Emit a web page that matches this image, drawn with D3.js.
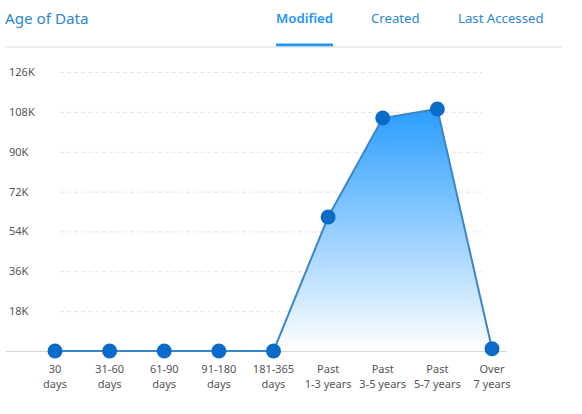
<!DOCTYPE html>
<html>
<head>
<meta charset="utf-8">
<script src="https://cdn.jsdelivr.net/npm/d3@7/dist/d3.min.js"></script>
<style>
  html, body { margin: 0; padding: 0; background: #fff; }
  svg { display: block; font-family: "Noto Sans", "Open Sans", sans-serif; }
</style>
</head>
<body>
<svg id="chart" width="582" height="414"></svg>
<script>
// Age buckets (two-line labels) and file counts per bucket
const categories = [
  ["30", "days"], ["31-60", "days"], ["61-90", "days"], ["91-180", "days"],
  ["181-365", "days"], ["Past", "1-3 years"], ["Past", "3-5 years"],
  ["Past", "5-7 years"], ["Over", "7 years"]
];
const modifiedCounts = [0, 0, 0, 0, 0, 60500, 105200, 109300, 1000];
const yTicks = [18000, 36000, 54000, 72000, 90000, 108000, 126000];
const tabs = ["Modified", "Created", "Last Accessed"];
const activeTab = "Modified";

const svg = d3.select("#chart");

// Header
svg.append("text").attr("x", 5).attr("y", 24)
  .attr("font-size", 15.2).attr("fill", "#2b87d1").text("Age of Data");

const tabX = [276, 371, 458];
tabs.forEach((t, i) => {
  const txt = svg.append("text").attr("x", tabX[i]).attr("y", 23)
    .attr("font-size", 13.2)
    .attr("font-weight", t === activeTab ? 600 : 400)
    .attr("fill", t === activeTab ? "#2196f3" : "#2b87d1")
    .text(t);
  if (t === activeTab) {
    const w = txt.node().getComputedTextLength();
    svg.append("rect").attr("x", tabX[i]).attr("y", 43.5)
      .attr("width", w).attr("height", 3).attr("fill", "#2196f3");
  }
});
svg.append("line").attr("x1", 5).attr("x2", 562).attr("y1", 47).attr("y2", 47)
  .attr("stroke", "#d9d9d9").attr("stroke-width", 1);

// Scales
const x = d3.scalePoint().domain(d3.range(categories.length)).range([55, 492]);
const y = d3.scaleLinear().domain([0, 126000]).range([351, 72]);

// Gridlines
svg.append("g").selectAll("line").data(yTicks).join("line")
  .attr("x1", 60).attr("x2", 482)
  .attr("y1", d => y(d) + 0.5).attr("y2", d => y(d) + 0.5)
  .attr("stroke", "#e3e3e3").attr("stroke-dasharray", "4,3");

// Y axis labels
svg.append("g").selectAll("text").data(yTicks).join("text")
  .attr("x", 9).attr("y", d => y(d) + 4)
  .attr("font-size", 11).attr("fill", "#555")
  .text(d => (d / 1000) + "K");

// Baseline
svg.append("line").attr("x1", 6).attr("x2", 507)
  .attr("y1", y(0) + 0.5).attr("y2", y(0) + 0.5)
  .attr("stroke", "#d6d6d6").attr("stroke-width", 1);

// Area gradient
const defs = svg.append("defs");
const grad = defs.append("linearGradient").attr("id", "areaFill")
  .attr("gradientUnits", "userSpaceOnUse")
  .attr("x1", 0).attr("x2", 0).attr("y1", y(d3.max(modifiedCounts))).attr("y2", y(0));
grad.append("stop").attr("offset", "0%").attr("stop-color", "#2a9dff");
grad.append("stop").attr("offset", "100%").attr("stop-color", "#ffffff");

const idx = d3.range(modifiedCounts.length);
svg.append("path").datum(idx)
  .attr("fill", "url(#areaFill)")
  .attr("d", d3.area().x(i => x(i)).y0(y(0)).y1(i => y(modifiedCounts[i])));

svg.append("path").datum(idx)
  .attr("fill", "none").attr("stroke", "#3b86c6").attr("stroke-width", 2)
  .attr("d", d3.line().x(i => x(i)).y(i => y(modifiedCounts[i])));

svg.append("g").selectAll("circle").data(idx).join("circle")
  .attr("cx", i => x(i)).attr("cy", i => y(modifiedCounts[i]))
  .attr("r", 7.5).attr("fill", "#0a6bc8");

// X axis labels
const xl = svg.append("g").selectAll("text").data(idx).join("text")
  .attr("text-anchor", "middle").attr("font-size", 11).attr("fill", "#555");
xl.append("tspan").attr("x", i => x(i)).attr("y", 373).text(i => categories[i][0]);
xl.append("tspan").attr("x", i => x(i)).attr("y", 388).text(i => categories[i][1]);
</script>
</body>
</html>
